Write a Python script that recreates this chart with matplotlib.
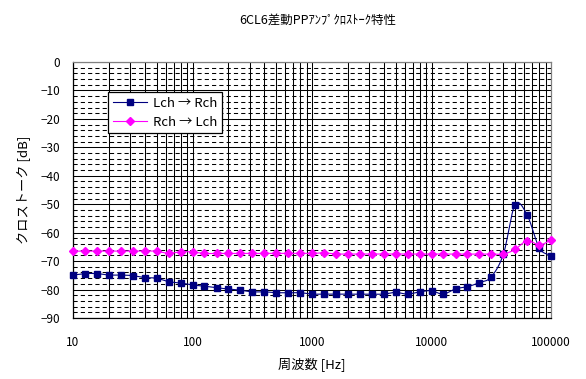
import numpy as np
import matplotlib
matplotlib.use("Agg")
import matplotlib.pyplot as plt
from matplotlib.ticker import FixedLocator, NullFormatter, MultipleLocator

plt.rcParams['font.family'] = ['Noto Sans CJK JP', 'DejaVu Sans']
plt.rcParams['axes.unicode_minus'] = True

title = "6CL6差動PPｱﾝﾌﾟｸﾛｽﾄｰｸ特性"
xlabel = "周波数 [Hz]"
ylabel = "クロストーク [dB]"

freq = [10, 12.5, 16, 20, 25, 31.5, 40, 50, 63, 80,
        100, 125, 160, 200, 250, 315, 400, 500, 630, 800,
        1000, 1250, 1600, 2000, 2500, 3150, 4000, 5000, 6300, 8000,
        10000, 12500, 16000, 20000, 25000, 31500, 40000, 50000, 63000, 80000,
        100000]

lch_to_rch = [-74.9, -74.4, -74.4, -74.9, -74.9, -75.1, -75.8, -76.0, -77.2, -77.7,
              -78.4, -78.8, -79.4, -79.8, -80.2, -80.8, -80.8, -81.1, -81.1, -81.1,
              -81.6, -81.6, -81.6, -81.6, -81.6, -81.6, -81.6, -81.0, -81.6, -80.8,
              -80.4, -81.6, -79.7, -79.0, -77.6, -75.6, -67.5, -50.2, -53.7, -65.4,
              -68.1]

rch_to_lch = [-66.5, -66.5, -66.5, -66.5, -66.5, -66.5, -66.5, -66.5, -67.3, -66.7,
              -66.8, -67.3, -67.3, -67.3, -67.3, -67.3, -67.3, -67.3, -67.3, -67.3,
              -67.3, -67.1, -67.5, -67.5, -67.5, -67.5, -67.5, -67.5, -67.5, -67.5,
              -67.5, -67.5, -67.5, -67.5, -67.5, -67.5, -67.5, -65.9, -62.8, -64.3,
              -62.6]

series_labels = ["Lch → Rch", "Rch → Lch"]
yticks = [0, -10, -20, -30, -40, -50, -60, -70, -80, -90]
xticks = [10, 100, 1000, 10000, 100000]


def smooth(xs, ys, n=20):
    """Catmull-Rom spline through points in (log10 x, y) space."""
    lx = np.log10(np.asarray(xs, float))
    y = np.asarray(ys, float)
    px = np.concatenate([[2 * lx[0] - lx[1]], lx, [2 * lx[-1] - lx[-2]]])
    py = np.concatenate([[2 * y[0] - y[1]], y, [2 * y[-1] - y[-2]]])
    outx, outy = [], []
    t = np.linspace(0, 1, n, endpoint=False)
    for i in range(1, len(px) - 2):
        p0, p1, p2, p3 = px[i - 1], px[i], px[i + 1], px[i + 2]
        q0, q1, q2, q3 = py[i - 1], py[i], py[i + 1], py[i + 2]
        t2, t3 = t * t, t * t * t
        outx.append(0.5 * (2 * p1 + (-p0 + p2) * t + (2 * p0 - 5 * p1 + 4 * p2 - p3) * t2 + (-p0 + 3 * p1 - 3 * p2 + p3) * t3))
        outy.append(0.5 * (2 * q1 + (-q0 + q2) * t + (2 * q0 - 5 * q1 + 4 * q2 - q3) * t2 + (-q0 + 3 * q1 - 3 * q2 + q3) * t3))
    outx.append([lx[-1]])
    outy.append([y[-1]])
    return 10 ** np.concatenate(outx), np.concatenate(outy)


fig = plt.figure(figsize=(5.86, 3.79), dpi=100)
ax = fig.add_axes([73 / 586, 1 - 318 / 379, (551 - 73) / 586, (318 - 62) / 379])

ax.set_xscale('log')
ax.set_xlim(10, 100000)
ax.set_ylim(-90, 0)

# grid
ax.yaxis.set_major_locator(FixedLocator(yticks))
ax.yaxis.set_minor_locator(MultipleLocator(2))
ax.xaxis.set_major_locator(FixedLocator(xticks))
ax.xaxis.set_minor_locator(FixedLocator([m * 10 ** e for e in range(1, 5) for m in range(2, 10)]))
ax.xaxis.set_minor_formatter(NullFormatter())
ax.set_xticklabels([str(v) for v in xticks])
ax.set_yticklabels([("−" + str(-v)) if v < 0 else str(v) for v in yticks])

ax.grid(which='major', axis='both', color='black', linewidth=0.75, linestyle='-')
ax.grid(which='minor', axis='x', color='black', linewidth=0.75, linestyle='-')
ax.grid(which='minor', axis='y', color='black', linewidth=0.75, linestyle=(0, (4, 3)))
ax.set_axisbelow(True)

ax.tick_params(which='both', length=0)
ax.tick_params(axis='y', pad=9, labelsize=8.5)
ax.tick_params(axis='x', pad=13, labelsize=8.5)

for s in ['left', 'bottom']:
    ax.spines[s].set_color('black')
    ax.spines[s].set_linewidth(0.9)
for s in ['top', 'right']:
    ax.spines[s].set_color('#808080')
    ax.spines[s].set_linewidth(0.9)

sx, sy = smooth(freq, lch_to_rch)
ax.plot(sx, sy, color='#000080', linewidth=0.8, clip_on=False, zorder=3)
ax.plot(freq, lch_to_rch, linestyle='none', marker='s', markersize=5,
        color='#000080', clip_on=False, zorder=4)
sx2, sy2 = smooth(freq, rch_to_lch)
ax.plot(sx2, sy2, color='#FF00FF', linewidth=0.8, clip_on=False, zorder=3)
ax.plot(freq, rch_to_lch, linestyle='none', marker='D', markersize=4.2,
        color='#FF00FF', clip_on=False, zorder=4)

# legend proxies
h1, = ax.plot([], [], color='#000080', marker='s', markersize=4.5, linewidth=0.8)
h2, = ax.plot([], [], color='#FF00FF', marker='D', markersize=3.8, linewidth=0.8)
leg = ax.legend([h1, h2], series_labels, loc='upper left',
                bbox_to_anchor=(0.073, 0.883), borderaxespad=0,
                fancybox=False, framealpha=1, edgecolor='black',
                fontsize=9.5, handlelength=2.6, handletextpad=0.5,
                borderpad=0.35, labelspacing=0.45)
leg.get_frame().set_linewidth(0.9)

ax.set_xlabel(xlabel, fontsize=9.5, labelpad=6)
ax.set_ylabel(ylabel, fontsize=9.5, labelpad=8)
fig.text(318 / 586, 1 - 20 / 379, title, ha='center', va='center', fontsize=9)

fig.savefig('out.png', dpi=100)
